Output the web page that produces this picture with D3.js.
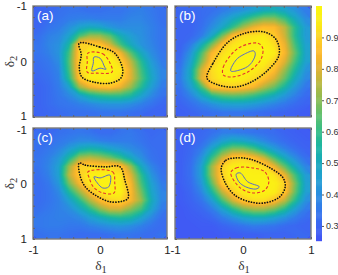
<!DOCTYPE html>
<html>
<head>
<meta charset="utf-8">
<script src="https://cdn.jsdelivr.net/npm/d3@7"></script>
<style>
  html, body { margin: 0; padding: 0; background: #fff; }
  svg { display: block; }
  text { font-family: "Liberation Sans", Arial, sans-serif; }
</style>
</head>
<body>
<div id="chart"></div>
<script>
// values, rows go from delta2=-1 (top) to delta2=1, columns from delta1=-1 to 1
var gridA = [
  [.30,.31,.33,.34,.34,.33,.33,.34,.34,.36,.37,.35,.33],
  [.30,.32,.34,.36,.37,.37,.36,.36,.36,.38,.38,.36,.33],
  [.31,.34,.36,.41,.47,.50,.48,.43,.40,.40,.40,.37,.34],
  [.33,.37,.39,.47,.63,.72,.72,.65,.52,.45,.41,.37,.34],
  [.34,.38,.41,.55,.90,.90,.87,.78,.62,.50,.42,.38,.34],
  [.34,.37,.42,.62,.90,.96,.97,.92,.83,.65,.50,.40,.35],
  [.33,.35,.40,.64,.90,.97,.97,.97,.90,.76,.58,.44,.36],
  [.32,.34,.38,.62,.90,.97,.97,.97,.94,.80,.62,.47,.38],
  [.31,.33,.37,.58,.87,.95,.96,.96,.91,.80,.64,.49,.38],
  [.30,.32,.36,.46,.72,.82,.86,.87,.82,.72,.58,.45,.36],
  [.30,.32,.35,.39,.46,.54,.58,.60,.60,.56,.47,.39,.34],
  [.30,.32,.34,.35,.37,.39,.41,.42,.42,.40,.37,.34,.31],
  [.30,.31,.32,.33,.33,.33,.34,.34,.34,.33,.32,.30,.30]
];
var gridB = [
  [.31,.31,.32,.33,.36,.39,.42,.46,.50,.52,.48,.42,.36],
  [.30,.30,.32,.36,.42,.49,.56,.64,.70,.70,.62,.50,.40],
  [.30,.30,.33,.40,.48,.60,.73,.82,.86,.85,.76,.58,.44],
  [.30,.31,.36,.48,.68,.86,.92,.93,.94,.89,.78,.58,.44],
  [.30,.36,.50,.68,.86,.93,.95,.96,.97,.92,.82,.62,.46],
  [.31,.42,.62,.84,.92,.96,.97,.98,.98,.95,.84,.66,.47],
  [.33,.46,.68,.88,.95,.97,.98,.98,.96,.90,.80,.62,.46],
  [.35,.50,.78,.92,.96,.97,.97,.95,.92,.86,.72,.56,.42],
  [.36,.50,.80,.91,.95,.96,.95,.92,.87,.79,.66,.50,.39],
  [.34,.45,.62,.86,.89,.90,.88,.84,.75,.67,.55,.43,.35],
  [.32,.38,.48,.58,.64,.66,.65,.61,.56,.50,.43,.37,.32],
  [.30,.33,.37,.41,.45,.46,.46,.44,.41,.38,.35,.32,.30],
  [.29,.30,.32,.33,.34,.34,.34,.33,.32,.31,.30,.29,.28]
];
var gridC = [
  [.32,.31,.33,.34,.35,.34,.32,.32,.34,.35,.33,.31,.32],
  [.33,.33,.35,.37,.39,.39,.37,.36,.36,.36,.34,.32,.32],
  [.33,.35,.38,.45,.52,.55,.53,.48,.44,.40,.37,.33,.32],
  [.34,.37,.43,.56,.73,.76,.73,.68,.60,.50,.41,.34,.32],
  [.34,.38,.46,.72,.90,.91,.90,.90,.88,.72,.50,.38,.33],
  [.33,.37,.46,.76,.89,.96,.97,.97,.93,.80,.59,.42,.34],
  [.32,.35,.43,.68,.84,.94,.97,.97,.95,.84,.63,.46,.36],
  [.32,.34,.39,.56,.72,.86,.93,.97,.96,.85,.68,.48,.38],
  [.32,.34,.37,.46,.58,.74,.85,.90,.92,.84,.72,.51,.38],
  [.33,.35,.37,.40,.48,.58,.70,.78,.78,.70,.62,.47,.36],
  [.35,.36,.37,.37,.39,.45,.50,.55,.57,.55,.47,.39,.33],
  [.35,.36,.36,.35,.35,.37,.39,.41,.42,.40,.37,.34,.32],
  [.33,.34,.34,.33,.32,.32,.32,.33,.34,.34,.33,.32,.34]
];
var gridD = [
  [.29,.30,.31,.33,.36,.36,.35,.34,.33,.32,.30,.29,.28],
  [.29,.30,.32,.38,.45,.50,.48,.44,.39,.35,.32,.30,.29],
  [.29,.31,.36,.48,.62,.70,.70,.64,.54,.45,.38,.33,.30],
  [.29,.32,.41,.60,.78,.89,.90,.86,.78,.63,.50,.40,.33],
  [.29,.33,.45,.72,.90,.95,.96,.95,.91,.82,.66,.50,.38],
  [.29,.33,.45,.72,.90,.97,.98,.97,.97,.93,.82,.62,.44],
  [.29,.32,.42,.65,.88,.94,.97,.98,.98,.96,.90,.68,.46],
  [.28,.31,.38,.55,.76,.89,.95,.97,.97,.95,.88,.66,.45],
  [.28,.30,.34,.44,.62,.78,.88,.92,.92,.87,.76,.58,.41],
  [.27,.29,.31,.36,.46,.58,.68,.73,.73,.68,.58,.45,.36],
  [.27,.28,.29,.31,.36,.41,.47,.50,.50,.46,.41,.36,.32],
  [.27,.27,.28,.28,.30,.32,.34,.36,.35,.34,.32,.31,.30],
  [.27,.27,.27,.27,.28,.28,.29,.29,.30,.30,.30,.31,.31]
];

// contour outlines as [delta1, delta2]
var blackA = [[-.31,-.33],[0,-.26],[.22,-.15],[.34,.15],[.31,.30],[.15,.39],[-.10,.37],[-.27,.28],[-.31,.10],[-.28,-.12]];
var redA = [[-.18,-.15],[.04,-.14],[.15,.03],[.18,.19],[-.04,.21],[-.19,.19],[-.19,.01]];
var blueA = [[-.09,-.08],[0,-.06],[.07,.10],[.09,.14],[0,.12],[-.12,.17],[-.10,.03]];

var blackB = [[-.53,.30],[-.44,.03],[-.22,-.35],[.03,-.51],[.32,-.53],[.49,-.39],[.53,-.12],[.37,.15],[.12,.37],[-.12,.46],[-.37,.42]];
var redB = [[-.29,.24],[-.29,.10],[-.07,-.24],[.22,-.33],[.29,-.24],[.26,-.03],[.07,.19],[-.18,.28]];
var blueB = [[-.18,.17],[-.10,-.03],[0,-.12],[.16,-.19],[.18,-.12],[.10,.06],[-.04,.15]];

var blackC = [[-.31,-.37],[-.22,-.33],[.07,-.30],[.30,-.30],[.37,-.06],[.42,.26],[.33,.32],[.15,.33],[-.07,.21],[-.22,.06],[-.30,-.15]];
var redC = [[-.18,-.21],[.19,-.21],[.22,-.01],[.21,.17],[.04,.17],[-.10,.06],[-.16,-.10]];
var blueC = [[-.09,-.12],[0,-.10],[.15,-.15],[.13,.06],[.04,.08],[-.04,-.01]];

var blackD = [[-.32,-.28],[-.25,-.42],[-.12,-.46],[.10,-.44],[.40,-.28],[.59,-.10],[.62,.06],[.54,.24],[.32,.35],[.10,.33],[-.12,.21],[-.26,-.01]];
var redD = [[-.18,-.19],[-.10,-.28],[.15,-.28],[.32,-.21],[.38,-.03],[.32,.12],[.15,.17],[-.04,.08]];
var blueD = [[-.10,-.17],[-.04,-.19],[.07,-.03],[.24,.06],[.19,.10],[.04,.06],[-.06,-.03]];

var panelLabels = ["(a)", "(b)", "(c)", "(d)"];
var colorTicks = [0.3, 0.4, 0.5, 0.6, 0.7, 0.8, 0.9];
var axisTicks = [-1, -0.8, -0.6, -0.4, -0.2, 0, 0.2, 0.4, 0.6, 0.8, 1];
var labelledTicks = [-1, 0, 1];

var colorStops = [0.25, 0.3, 0.35, 0.4, 0.45, 0.5, 0.55, 0.6, 0.65, 0.7, 0.75, 0.8, 0.85, 0.88, 0.91, 0.94, 1];
var colorValues = ["#4352f6", "#3c65f2", "#3479ec", "#2b8ee0", "#22a0d2", "#1aa9bd", "#1bb5a3", "#35bd88",
  "#5cc06f", "#8abc55", "#b5b942", "#e0b233", "#feb92c", "#fdc828", "#fcd824", "#fbea18", "#fbf80f"];

var color = d3.scaleLinear().domain(colorStops).range(colorValues);

var panels = [
  { grid: gridA, black: blackA, red: redA, blue: blueA, x0: 33, x1: 167, y0: 6, y1: 117, xText: false, yText: true },
  { grid: gridB, black: blackB, red: redB, blue: blueB, x0: 175, x1: 311, y0: 6, y1: 117, xText: false, yText: false },
  { grid: gridC, black: blackC, red: redC, blue: blueC, x0: 33, x1: 167, y0: 128, y1: 239, xText: true, yText: true },
  { grid: gridD, black: blackD, red: redD, blue: blueD, x0: 175, x1: 311, y0: 128, y1: 239, xText: true, yText: false }
];

var svg = d3.select("#chart")
  .append("svg")
  .attr("width", 338)
  .attr("height", 275);

var levels = d3.range(0.25, 1.0, 0.005);

panels.forEach(function(p, i) {
  var x = d3.scaleLinear().domain([-1, 1]).range([p.x0, p.x1]);
  var y = d3.scaleLinear().domain([-1, 1]).range([p.y0, p.y1]);

  var rows = p.grid.length;
  var cols = p.grid[0].length;
  var gx = d3.scaleLinear().domain([0, cols]).range([p.x0, p.x1]);
  var gy = d3.scaleLinear().domain([0, rows]).range([p.y0, p.y1]);

  var contours = d3.contours()
    .size([cols, rows])
    .thresholds(levels)(d3.merge(p.grid));

  // project contour rings from grid space to pixels
  var project = d3.geoTransform({
    point: function(a, b) { this.stream.point(gx(a), gy(b)); }
  });

  var g = svg.append("g").attr("class", "panel");

  g.append("rect")
    .attr("x", p.x0).attr("y", p.y0)
    .attr("width", p.x1 - p.x0).attr("height", p.y1 - p.y0)
    .style("fill", color(0.27));

  g.selectAll(".level")
    .data(contours)
    .enter().append("path")
    .attr("class", "level")
    .attr("d", d3.geoPath(project))
    .style("fill", function(d) { return color(d.value); });

  var ring = d3.line()
    .x(function(d) { return x(d[0]); })
    .y(function(d) { return y(d[1]); })
    .curve(d3.curveCatmullRomClosed);

  g.append("path").attr("d", ring(p.black))
    .style("fill", "none").style("stroke", "#111")
    .style("stroke-width", 1.7).style("stroke-dasharray", "0.1,2.6").style("stroke-linecap", "round");
  g.append("path").attr("d", ring(p.red))
    .style("fill", "none").style("stroke", "#e6352f")
    .style("stroke-width", 1.1).style("stroke-dasharray", "3,2");
  g.append("path").attr("d", ring(p.blue))
    .style("fill", "none").style("stroke", "#5a6cc4")
    .style("stroke-width", 1);

  // frame and inward ticks
  g.append("rect")
    .attr("x", p.x0).attr("y", p.y0)
    .attr("width", p.x1 - p.x0).attr("height", p.y1 - p.y0)
    .style("fill", "none").style("stroke", "#7d7d7d").style("stroke-width", 1.4);

  var tickFmt = function(d) { return labelledTicks.indexOf(d) >= 0 ? String(d) : ""; };

  var bottom = g.append("g")
    .attr("transform", "translate(0," + p.y1 + ")")
    .call(d3.axisBottom(x).tickValues(axisTicks).tickSize(-2).tickPadding(7)
      .tickFormat(p.xText ? tickFmt : ""));
  var left = g.append("g")
    .attr("transform", "translate(" + p.x0 + ",0)")
    .call(d3.axisLeft(y).tickValues(axisTicks).tickSize(-2).tickPadding(6)
      .tickFormat(p.yText ? tickFmt : ""));
  var top = g.append("g")
    .attr("transform", "translate(0," + p.y0 + ")")
    .call(d3.axisTop(x).tickValues(axisTicks).tickSize(-2).tickFormat(""));

  [bottom, left, top].forEach(function(ax) {
    ax.select(".domain").remove();
    ax.selectAll("line").style("stroke", "#666");
    ax.selectAll("text")
      .style("font-family", "'Liberation Sans', Arial, sans-serif")
      .style("font-size", "11.5px")
      .style("fill", "#222");
  });

  // the 1 of the upper panel and the -1 of the lower one sit tightly together
  if (p.yText && i === 0) left.selectAll("text").filter(function(d) { return d === 1; }).attr("y", -1.5);
  if (p.yText && i === 2) left.selectAll("text").filter(function(d) { return d === -1; }).attr("y", 1.5);

  g.append("text")
    .attr("x", p.x0 + 4)
    .attr("y", p.y0 + 14)
    .style("font-size", "13.5px")
    .style("fill", "#fff")
    .text(panelLabels[i]);

  if (p.xText) {
    var xl = g.append("text")
      .attr("x", (p.x0 + p.x1) / 2 + 1)
      .attr("y", 270)
      .attr("text-anchor", "middle")
      .style("font-family", "'Liberation Serif', serif")
      .style("font-size", "13.5px")
      .style("fill", "#333");
    xl.append("tspan").text("\u03b4");
    xl.append("tspan").attr("dy", 3).style("font-size", "10.5px").text("1");
  }
  if (p.yText) {
    var yl = g.append("text")
      .attr("transform", "translate(14," + ((p.y0 + p.y1) / 2) + ") rotate(-90)")
      .attr("text-anchor", "middle")
      .style("font-family", "'Liberation Serif', serif")
      .style("font-size", "13.5px")
      .style("fill", "#333");
    yl.append("tspan").text("\u03b4");
    yl.append("tspan").attr("dy", 3).style("font-size", "10.5px").text("2");
  }
});

// colorbar
var cbY = d3.scaleLinear().domain([0.253, 1.0]).range([240.7, 6]);
var cbLevels = d3.range(0.253, 1.0, 0.003);

svg.append("g").selectAll("rect")
  .data(cbLevels)
  .enter().append("rect")
  .attr("x", 316)
  .attr("y", function(d) { return cbY(d + 0.003); })
  .attr("width", 6)
  .attr("height", function(d) { return cbY(d) - cbY(d + 0.003) + 0.5; })
  .style("fill", function(d) { return color(d); });

var cbAxis = svg.append("g")
  .attr("transform", "translate(322,0)")
  .call(d3.axisRight(cbY).tickValues(colorTicks).tickSize(2).tickPadding(2).tickFormat(d3.format(".1f")));
cbAxis.select(".domain").remove();
cbAxis.selectAll("line").style("stroke", "#555");
cbAxis.selectAll("text")
  .style("font-family", "'Liberation Sans', Arial, sans-serif")
  .style("font-size", "9px")
  .style("fill", "#333");
</script>
</body>
</html>
